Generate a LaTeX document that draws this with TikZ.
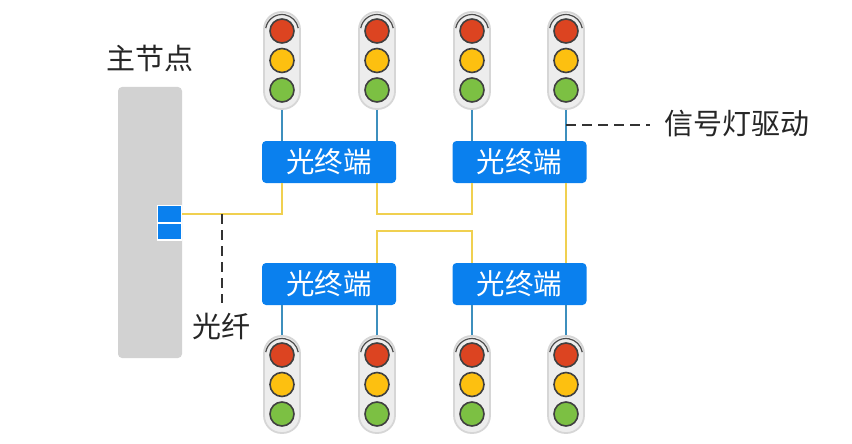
\documentclass[tikz,border=0pt]{standalone}
\usepackage{fontspec}
\setmainfont{Noto Sans CJK SC}
\usetikzlibrary{positioning}
\definecolor{termblue}{HTML}{0A80EE}
\definecolor{fibreyellow}{HTML}{F0D050}
\definecolor{drivewire}{HTML}{3D8FBD}
\definecolor{mastergray}{HTML}{D2D2D2}
\definecolor{dashgray}{HTML}{333333}
\definecolor{lampred}{HTML}{DC4421}
\definecolor{lampyellow}{HTML}{FDC010}
\definecolor{lampgreen}{HTML}{7CC043}
\tikzset{
    terminalbox/.style={fill=termblue,text=white,rounded corners=4pt,minimum width=134pt,minimum height=42pt,inner sep=0pt,font=\fontsize{28.5}{28.5}\selectfont},
    portbox/.style={fill=termblue,draw=white,line width=1.5pt,minimum width=24pt,minimum height=17pt,inner sep=0pt},
    housing/.style={fill=black!7,draw=black!16,line width=1.8pt,rounded corners=17.5pt,minimum width=36pt,minimum height=97pt,inner sep=0pt},
    lamp/.style={circle,draw=black!75,line width=1.6pt,minimum size=24pt,inner sep=0pt},
    fibre/.style={fibreyellow,line width=2.2pt},
    drive/.style={drivewire,line width=2pt},
    callout/.style={dashgray,line width=1.4pt,dash pattern=on 10pt off 6pt},
    caption/.style={text=black!85,inner sep=0pt,font=\fontsize{29}{29}\selectfont}
}
\begin{document}
\begin{tikzpicture}[x=1pt,y=-1pt]
    \useasboundingbox (0,0) rectangle (852,444);
    % master node
    \node[fill=mastergray,rounded corners=4pt,minimum width=64pt,minimum height=271pt,inner sep=0pt] (master) at (150,222.5) {};
    \node[caption] (mastertext) at (150,58) {主节点};
    \node[portbox] (portup) at (169.5,214) {};
    \node[portbox] (portdown) at (169.5,231.5) {};
    % optical terminals
    \node[terminalbox] (terma) at (329,162) {光终端};
    \node[terminalbox] (termb) at (519.5,162) {光终端};
    \node[terminalbox] (termc) at (329,284) {光终端};
    \node[terminalbox] (termd) at (519.5,284) {光终端};
    % traffic lights
    \foreach \lightx/\lightname/\lighty in {282/la/60.5,377/lb/60.5,472/lc/60.5,566/ld/60.5,282/le/384.5,377/lf/384.5,472/lg/384.5,566/lh/384.5}{
        \node[housing] (\lightname) at (\lightx,\lighty) {};
        \node[lamp,fill=lampred] (\lightname r) at (\lightx,\lighty-29.5) {};
        \node[lamp,fill=lampyellow] (\lightname y) at (\lightx,\lighty) {};
        \node[lamp,fill=lampgreen] (\lightname g) at (\lightx,\lighty+29.5) {};
        \draw[black!70,line width=1.2pt] ([shift={(170:16.5pt)}]\lightname r.center) arc (170:10:16.5pt);
    }
    \foreach \lightname/\lightterm in {la/terma,lb/terma,lc/termb,ld/termb}{
        \draw[drive] (\lightname.south) -- (\lightname.south |- \lightterm.north);
    }
    \foreach \lightname/\lightterm in {le/termc,lf/termc,lg/termd,lh/termd}{
        \draw[drive] (\lightname.north) -- (\lightname.north |- \lightterm.south);
    }
    % fibre links
    \draw[fibre] (portup.east) -| (la.south |- terma.south);
    \draw[fibre] (lb.south |- terma.south) |- (0,214 -| lc.south) -- (lc.south |- termb.south);
    \draw[fibre] (lf.north |- termc.north) -- (lf.north |- 0,231) -| (lg.north |- termd.north);
    \draw[fibre] (ld.south |- termb.south) -- (lh.north |- termd.north);
    % callouts
    \coordinate (fibretap) at (222,214);
    \node[caption] (fibretext) at (221,326) {光纤};
    \draw[callout] (fibretap) -- (fibretap |- 0,303);
    \coordinate (drivetap) at (566,125);
    \node[caption] (drivetext) at (737,124) {信号灯驱动};
    \draw[callout] (drivetap) -- (650,125);
\end{tikzpicture}
\end{document}
